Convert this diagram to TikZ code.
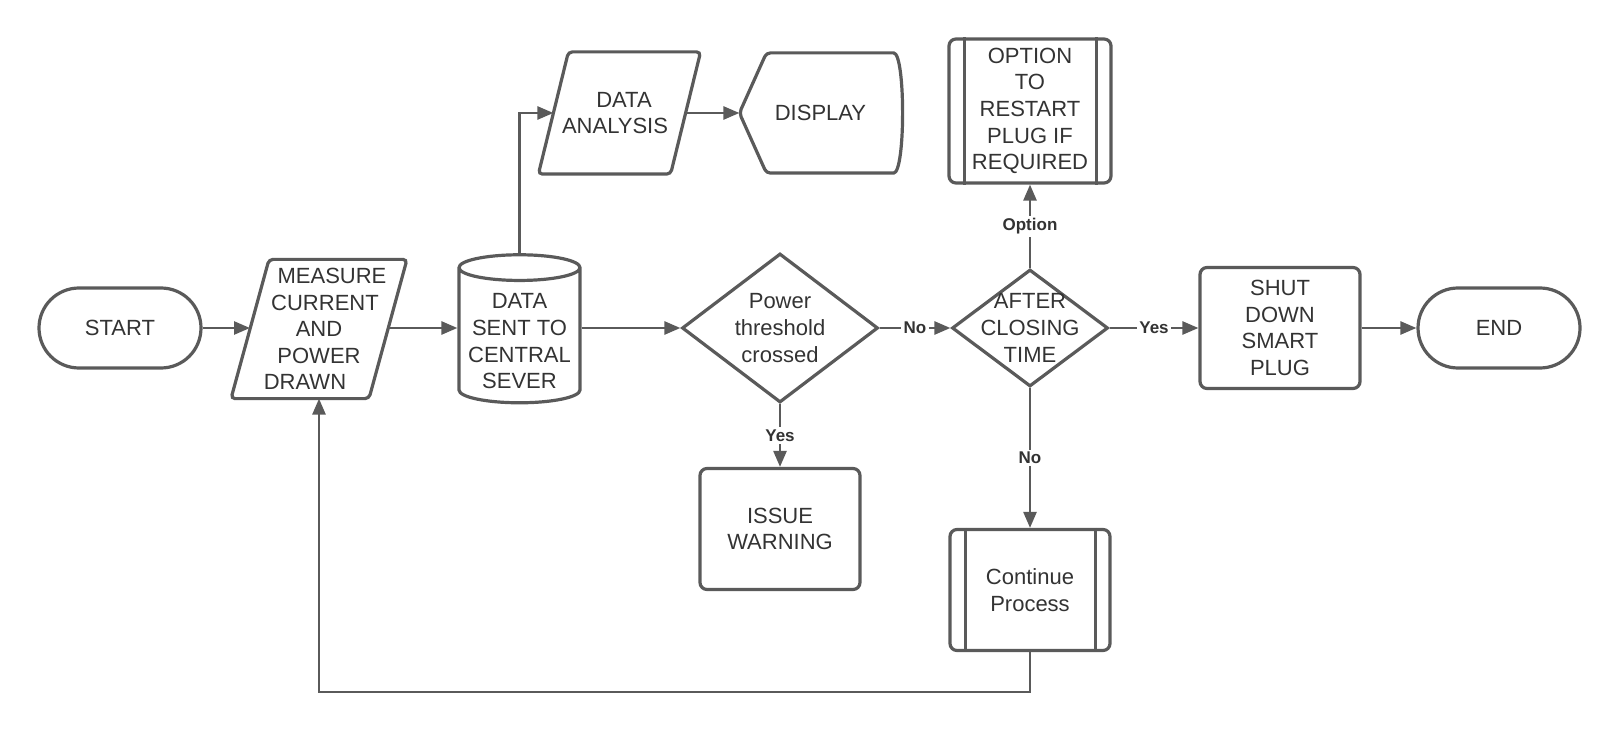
\documentclass[tikz,border=0pt]{standalone}
\usepackage{fontspec}
\setmainfont{Liberation Sans}
\usetikzlibrary{shapes.geometric, arrows.meta}

\definecolor{linegray}{HTML}{5A5A5A}
\definecolor{textgray}{HTML}{333333}

\tikzset{
  outline/.style={draw=linegray, line width=1.6pt},
  base/.style={outline, text=textgray, align=center, font=\fontsize{11}{13.3}\selectfont},
  terminal/.style={base, rounded corners=20pt, minimum width=81pt, minimum height=40pt},
  process/.style={base, rounded corners=3.5pt, minimum width=80pt, minimum height=60.5pt},
  io/.style={base, draw=none, minimum width=62pt, minimum height=68pt, inner sep=0pt},
  database/.style={base, cylinder, shape border rotate=90, aspect=0.25, minimum width=60.5pt, minimum height=74pt, inner sep=0pt},
  decision/.style={base, diamond, inner sep=0pt},
  inside/.style={base, draw=none},
  flow/.style={draw=linegray, line width=1.3pt, -{Triangle[length=8pt, width=6.5pt]}},
  answer/.style={font=\fontsize{8.5}{10}\selectfont\bfseries, text=textgray, fill=white, inner sep=1.2pt}
}

\begin{document}
\begin{tikzpicture}[x=0.5pt, y=-0.5pt]
\useasboundingbox (0,0) rectangle (1620,732);

% main row
\node[terminal] (start) at (120,328) {START};
\node[io] (measure) at (319,329) {\hspace*{13pt}MEASURE\\\hspace*{6pt}CURRENT\\AND\\POWER\hspace*{7pt}\\DRAWN\hspace*{14pt}};
\node[database] (server) at (519.5,336) {\rule{0pt}{13pt}DATA\\SENT TO\\CENTRAL\\SEVER};
\node[decision, minimum width=98pt, minimum height=74.5pt,
  label={[inside]center:Power\\threshold\\crossed}] (threshold) at (780,328) {};
\node[decision, minimum width=78pt, minimum height=58.5pt,
  label={[inside]center:AFTER\\CLOSING\\TIME}] (closing) at (1030,328) {};
\node[process] (shutdown) at (1280,328) {SHUT\\DOWN\\SMART\\PLUG};
\node[terminal] (end) at (1499,328) {END};

% upper row
\node[io, minimum width=64.5pt, minimum height=59.5pt] (analysis) at (619.5,113) {\hspace*{4.5pt}DATA\\ANALYSIS\hspace*{4.5pt}};
\node[inside, minimum width=79.5pt, minimum height=58.5pt] (display) at (820.5,113) {DISPLAY};
\node[process, minimum width=81pt, minimum height=72pt] (restart) at (1030,111) {OPTION\\TO\\RESTART\\PLUG IF\\REQUIRED};

% lower row
\node[process] (warning) at (780,529) {ISSUE\\WARNING};
\node[process] (continue) at (1030,590) {Continue\\Process};

% slanted input/output outlines
\foreach \n/\s in {measure/9.5pt, analysis/7.5pt}
  \draw[outline, rounded corners=2pt] ([xshift=\s]\n.north west) -- ([xshift=\s]\n.north east)
    -- ([xshift=-\s]\n.south east) -- ([xshift=-\s]\n.south west) -- cycle;

% display outline
\draw[outline, rounded corners=2pt] (display.west) -- ([xshift=13.5pt]display.north west)
  -- ([xshift=-6pt]display.north east)
  .. controls ([xshift=2pt]display.north east) and ([xshift=2pt]display.south east) .. ([xshift=-6pt]display.south east)
  -- ([xshift=13.5pt]display.south west) -- cycle;

% predefined process bars
\foreach \n in {restart, continue}
  \draw[outline] ([xshift=8.5pt]\n.north west) -- ([xshift=8.5pt]\n.south west)
    ([xshift=-8pt]\n.north east) -- ([xshift=-8pt]\n.south east);

% connectors
\draw[flow] (start) -- (start -| measure.west);
\draw[flow] (start -| measure.east) -- (start -| server.west);
\draw[flow] (start -| server.east) -- (threshold);
\draw[flow] (threshold) -- node[answer] {No} (closing);
\draw[flow] (closing) -- node[answer] {Yes} (shutdown);
\draw[flow] (shutdown) -- (end);
\draw[flow] (server.north) |- (analysis);
\draw[flow] (analysis) -- (display);
\draw[flow] (closing) -- node[answer] {Option} (restart);
\draw[flow] (threshold) -- node[answer] {Yes} (warning);
\draw[flow] (closing) -- node[answer] {No} (continue);
\draw[flow] (continue.south) -- ++(0,40) -| (measure.south);
\end{tikzpicture}
\end{document}
